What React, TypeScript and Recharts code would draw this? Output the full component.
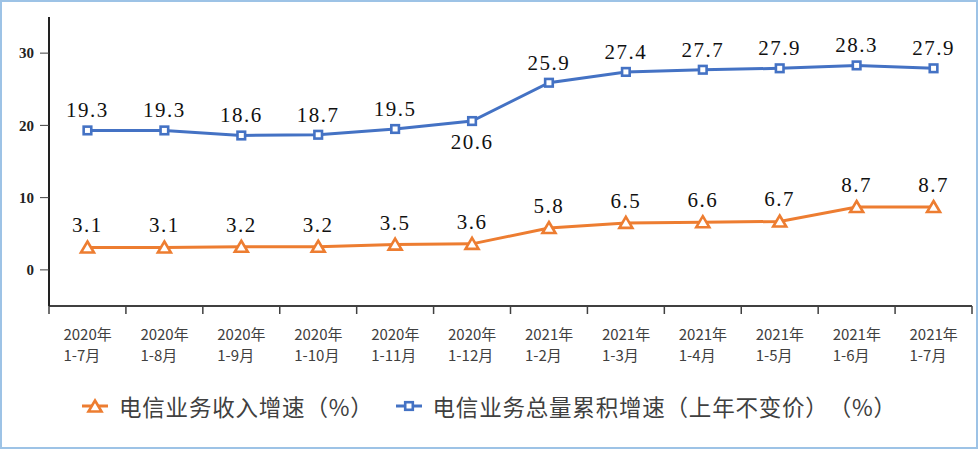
import { LineChart, Line, XAxis, YAxis, Legend, LabelList } from "recharts";

const years = ["2020年", "2020年", "2020年", "2020年", "2020年", "2020年", "2021年", "2021年", "2021年", "2021年", "2021年", "2021年"];
const months = ["1-7月", "1-8月", "1-9月", "1-10月", "1-11月", "1-12月", "1-2月", "1-3月", "1-4月", "1-5月", "1-6月", "1-7月"];
const revenueGrowth = [3.1, 3.1, 3.2, 3.2, 3.5, 3.6, 5.8, 6.5, 6.6, 6.7, 8.7, 8.7];
const volumeGrowth = [19.3, 19.3, 18.6, 18.7, 19.5, 20.6, 25.9, 27.4, 27.7, 27.9, 28.3, 27.9];
const yTicks = [0, 10, 20, 30];

const revenueName = "电信业务收入增速（%）";
const volumeName = "电信业务总量累积增速（上年不变价）（%）";

const ORANGE = "#ED7D31";
const BLUE = "#4472C4";

const data = months.map((m, i) => ({
  name: `${years[i]}|${m}`,
  revenue: revenueGrowth[i],
  volume: volumeGrowth[i],
}));

const PLOT_LEFT = 49;
const PLOT_RIGHT = 972;
const BAND = (PLOT_RIGHT - PLOT_LEFT) / data.length;

function XTick(props: any) {
  const { x, y, payload, index } = props;
  const [yr, mo] = String(payload.value).split("|");
  const left = x - BAND / 2;
  const sx = x - 24;
  return (
    <g>
      <line x1={left} y1={y - 8} x2={left} y2={y} stroke="#404040" strokeWidth={1.5} />
      {index === data.length - 1 && (
        <line x1={left + BAND} y1={y - 8} x2={left + BAND} y2={y} stroke="#404040" strokeWidth={1.5} />
      )}
      <text x={sx} y={y + 26} fontSize={15} fill="#404040" fontFamily="Noto Sans CJK SC">
        {yr}
      </text>
      <text x={sx} y={y + 47} fontSize={15} fill="#404040" fontFamily="Noto Sans CJK SC">
        {mo}
      </text>
    </g>
  );
}

function TriangleDot(props: any) {
  const { cx, cy } = props;
  if (cx == null || cy == null) return null;
  return (
    <path
      d={`M${cx},${cy - 6} L${cx + 6.5},${cy + 5} L${cx - 6.5},${cy + 5} Z`}
      fill="#fff"
      stroke={ORANGE}
      strokeWidth={2.6}
      strokeLinejoin="miter"
    />
  );
}

function SquareDot(props: any) {
  const { cx, cy } = props;
  if (cx == null || cy == null) return null;
  return <rect x={cx - 3.8} y={cy - 3.8} width={7.6} height={7.6} fill="#fff" stroke={BLUE} strokeWidth={2.6} />;
}

function makeLabel(gap: number, belowIndex: number) {
  return (props: any) => {
    const vb = props.viewBox || {};
    const x = props.x ?? vb.x;
    const y = props.y ?? vb.y;
    if (x == null || y == null) return null;
    const below = props.index === belowIndex;
    return (
      <text
        x={x}
        y={below ? y + gap + 15 : y - gap}
        textAnchor="middle"
        fontSize={21}
        letterSpacing={1.5}
        fontFamily="Liberation Serif"
        fill="#111"
      >
        {Number(props.value).toFixed(1)}
      </text>
    );
  };
}

function LegendMarker({ kind }: { kind: "tri" | "sq" }) {
  return (
    <svg width={26} height={16} style={{ display: "block" }}>
      <line x1={0} y1={8} x2={26} y2={8} stroke={kind === "tri" ? ORANGE : BLUE} strokeWidth={3} />
      {kind === "tri" ? <TriangleDot cx={13} cy={8.5} /> : <SquareDot cx={13} cy={8} />}
    </svg>
  );
}

function LegendBox() {
  const text: any = {
    fontSize: 22.5,
    color: "#404040",
    fontFamily: "Noto Sans CJK SC",
    lineHeight: "28px",
    letterSpacing: 0.8,
    textSpacingTrim: "space-all",
    whiteSpace: "nowrap",
  };
  return (
    <div style={{ display: "flex", alignItems: "center", paddingLeft: 82 }}>
      <LegendMarker kind="tri" />
      <span style={{ ...text, marginLeft: 11 }}>{revenueName}</span>
      <span style={{ width: 22 }} />
      <LegendMarker kind="sq" />
      <span style={{ ...text, marginLeft: 11 }}>{volumeName}</span>
    </div>
  );
}

export default function App() {
  return (
    <div style={{ position: "absolute", left: 0, top: 0, width: 980, height: 450, background: "#fff" }}>
      <LineChart width={980} height={450} data={data} margin={{ top: 17, right: 980 - PLOT_RIGHT, left: 0, bottom: 0 }}>
        <XAxis
          dataKey="name"
          height={144}
          tick={<XTick />}
          tickLine={false}
          axisLine={{ stroke: "#404040", strokeWidth: 2 }}
          interval={0}
          padding={{ left: BAND / 2, right: BAND / 2 }}
        />
        <YAxis
          width={PLOT_LEFT}
          domain={[-5, 35]}
          ticks={yTicks}
          tickSize={9}
          tickMargin={6}
          tickLine={{ stroke: "#404040" }}
          axisLine={{ stroke: "#222", strokeWidth: 2 }}
          tick={{ fontSize: 15, fill: "#222", fontWeight: "bold", fontFamily: "Liberation Serif" }}
        />
        <Legend
          verticalAlign="middle"
          align="center"
          content={() => <LegendBox />}
          wrapperStyle={{ top: 392, left: 0, width: 980, height: 30 }}
        />
        <Line
          type="linear"
          dataKey="revenue"
          name={revenueName}
          stroke={ORANGE}
          strokeWidth={3}
          dot={<TriangleDot />}
          activeDot={false}
          isAnimationActive={false}
        >
          <LabelList dataKey="revenue" content={makeLabel(15, -1)} />
        </Line>
        <Line
          type="linear"
          dataKey="volume"
          name={volumeName}
          stroke={BLUE}
          strokeWidth={3}
          dot={<SquareDot />}
          activeDot={false}
          isAnimationActive={false}
        >
          <LabelList dataKey="volume" content={makeLabel(13, 5)} />
        </Line>
      </LineChart>
      <div
        style={{
          position: "absolute",
          left: 0,
          top: 0,
          width: 978,
          height: 449,
          boxSizing: "border-box",
          border: "2px solid #9DC3E6",
          pointerEvents: "none",
        }}
      />
    </div>
  );
}
